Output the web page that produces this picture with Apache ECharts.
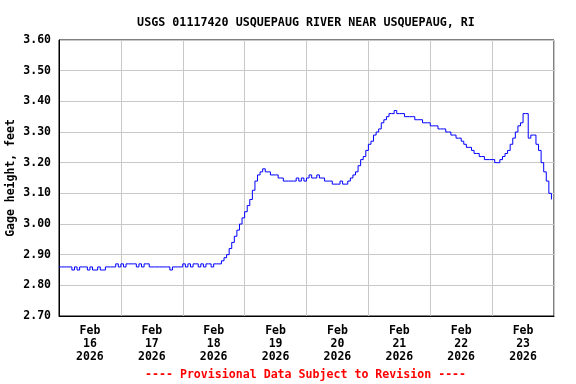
<!DOCTYPE html>
<html>
<head>
<meta charset="utf-8">
<script src="https://cdn.jsdelivr.net/npm/echarts@6/dist/echarts.min.js"></script>
<style>html,body{margin:0;padding:0;background:#fff}#c{width:576px;height:384px}</style>
</head>
<body>
<div id="c"></div>
<script>
var titleText = 'USGS 01117420 USQUEPAUG RIVER NEAR USQUEPAUG, RI';
var yAxisName = 'Gage height, feet';
var footText = '---- Provisional Data Subject to Revision ----';
var monthLabel = 'Feb';
var yearLabel = '2026';
var dayLabels = ['16','17','18','19','20','21','22','23'];
var yTicks = [2.70, 2.80, 2.90, 3.00, 3.10, 3.20, 3.30, 3.40, 3.50, 3.60];
// hours since Feb 16 00:00
var hours = [];
// gage height, feet (hourly)
var gage = [
 2.86,2.86,2.86,2.86,2.86,2.85,2.86,2.85,2.86,2.86,2.86,2.85,2.86,2.85,2.85,2.86,2.85,2.85,2.86,2.86,2.86,2.86,
 2.87,2.86,2.87,2.86,2.87,2.87,2.87,2.87,2.86,2.87,2.86,2.87,2.87,
 2.86,2.86,2.86,2.86,2.86,2.86,2.86,2.86,2.85,2.86,2.86,2.86,2.86,
 2.87,2.86,2.87,2.86,2.87,2.87,2.86,2.87,2.86,2.87,2.87,2.86,2.87,2.87,2.87,
 2.88,2.89,2.90,2.92,2.94,2.96,2.98,3.00,3.02,3.04,3.06,3.08,3.11,3.14,3.16,3.17,3.18,
 3.17,3.17,3.16,3.16,3.16,3.15,3.15,3.14,3.14,3.14,3.14,3.14,3.15,3.14,3.15,3.14,
 3.15,3.16,3.15,3.15,3.16,3.15,3.15,3.14,3.14,3.14,3.13,3.13,3.13,3.14,3.13,3.13,
 3.14,3.15,3.16,3.17,3.19,3.21,3.22,3.24,3.26,3.27,3.29,3.30,3.31,3.33,3.34,3.35,3.36,3.36,3.37,
 3.36,3.36,3.36,3.35,3.35,3.35,3.35,3.34,3.34,3.34,3.33,3.33,3.33,3.32,3.32,3.32,3.31,3.31,3.31,3.30,3.30,
 3.29,3.29,3.28,3.28,3.27,3.26,3.25,3.25,3.24,3.23,3.23,3.22,3.22,3.21,3.21,3.21,3.21,3.20,
 3.20,3.21,3.22,3.23,3.24,3.26,3.28,3.30,3.32,3.33,3.36,3.36,
 3.28,3.29,3.29,3.26,3.24,3.20,3.17,3.14,3.10,3.08
];
for (var i = 0; i < gage.length; i++) hours.push(i);
var seriesData = hours.map(function(h, i){ return [h, gage[i]]; });

var FONT = '"DejaVu Sans Mono", monospace';
var chart = echarts.init(document.getElementById('c'), null, {renderer: 'canvas'});
chart.setOption({
  animation: false,
  backgroundColor: '#ffffff',
  title: {
    text: titleText, left: 301, top: 12, textAlign: 'center',
    textStyle: {fontFamily: FONT, fontWeight: 'bold', fontSize: 11.7, color: '#000'}
  },
  graphic: [{
    type: 'text', left: 145, top: 369,
    style: {text: footText, fill: '#ff0000', font: 'bold 11.6px "DejaVu Sans Mono", monospace'}
  }],
  grid: {left: 59, top: 40, width: 495, height: 276, show: true, borderColor: '#000', borderWidth: 1,
         containLabel: false, outerBoundsMode: 'none'},
  xAxis: [{
    type: 'value', min: 0, max: 192, interval: 24,
    axisLine: {show: true, lineStyle: {color: '#000'}},
    axisTick: {show: false}, axisLabel: {show: false},
    splitLine: {show: true, lineStyle: {color: '#c8c8c8', width: 1}}
  }, {
    type: 'value', min: 0, max: 192, interval: 12, position: 'bottom',
    axisLine: {show: false}, axisTick: {show: false}, splitLine: {show: false},
    axisLabel: {
      show: true, margin: 9, lineHeight: 13,
      fontFamily: FONT, fontWeight: 'bold', fontSize: 11.5, color: '#000',
      formatter: function(v){
        if (v % 24 !== 12) return '';
        var d = Math.floor(v / 24);
        return d < dayLabels.length ? monthLabel + '\n' + dayLabels[d] + '\n' + yearLabel : '';
      }
    }
  }],
  yAxis: {
    type: 'value', min: yTicks[0], max: yTicks[yTicks.length-1], interval: 0.1,
    name: yAxisName, nameLocation: 'middle', nameGap: 42, nameRotate: 90, nameMoveOverlap: false,
    nameTextStyle: {fontFamily: FONT, fontWeight: 'bold', fontSize: 11.5, color: '#000'},
    axisLine: {show: true, lineStyle: {color: '#000'}},
    axisTick: {show: false},
    axisLabel: {margin: 8, fontFamily: FONT, fontWeight: 'bold', fontSize: 11.5, color: '#000',
      formatter: function(v){ return v.toFixed(2); }},
    splitLine: {show: true, lineStyle: {color: '#c8c8c8', width: 1}}
  },
  series: [{
    type: 'line', xAxisIndex: 0, data: seriesData, step: 'end',
    showSymbol: false, symbol: 'none',
    lineStyle: {color: '#0000ff', width: 1}
  }]
});
</script>
</body>
</html>
